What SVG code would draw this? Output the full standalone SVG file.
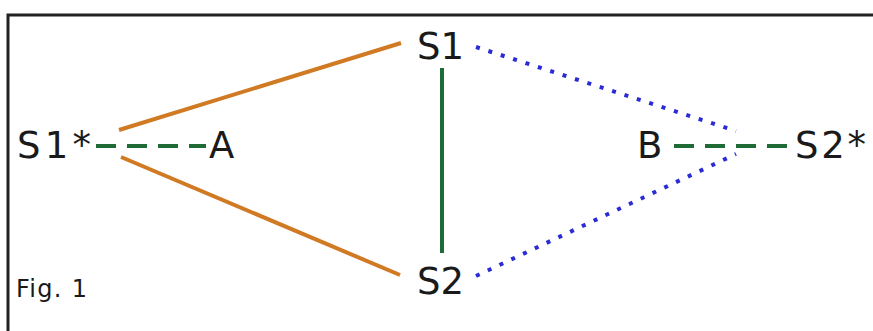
<svg xmlns="http://www.w3.org/2000/svg" width="873" height="331" viewBox="0 0 873 331">
<style>
.lbl{font-family:"DejaVu Sans",Verdana,sans-serif;font-size:37px;fill:#1a1a1a}
.orange{stroke:#d07a24;stroke-width:4;fill:none}
.green{stroke:#1e6b35;stroke-width:4;fill:none}
.gdash{stroke:#1e6b35;stroke-width:4;fill:none;stroke-dasharray:20 11}
.blue{stroke:#2b2bd6;stroke-width:4;fill:none;stroke-dasharray:4 9}
</style>
<rect width="873" height="331" fill="#ffffff"/>
<path d="M8 331 V15 H873" stroke="#222" stroke-width="3" fill="none"/>
<g id="connectors">
<line class="orange" x1="119" y1="130" x2="401" y2="43"/>
<line class="orange" x1="121" y1="157" x2="400" y2="275"/>
<line class="green" x1="442" y1="68" x2="442" y2="253"/>
<line class="gdash" x1="96" y1="146" x2="206" y2="146"/>
<line class="gdash" x1="674" y1="146" x2="794" y2="146"/>
<line class="blue" x1="476" y1="47" x2="736" y2="131"/>
<line class="blue" x1="476" y1="276" x2="736" y2="154"/>
</g>
<g id="S1"><text class="lbl" x="417" y="59">S1</text></g>
<g id="S2"><text class="lbl" x="417" y="294">S2</text></g>
<g id="S1star"><text class="lbl" x="17" y="158" textLength="74" lengthAdjust="spacing">S1*</text></g>
<g id="A"><text class="lbl" x="209" y="158">A</text></g>
<g id="B"><text class="lbl" x="637" y="158">B</text></g>
<g id="S2star"><text class="lbl" x="795" y="158" textLength="71" lengthAdjust="spacing">S2*</text></g>
<g id="fig"><text x="16" y="297" textLength="71" lengthAdjust="spacing" style="font-family:'DejaVu Sans',Verdana,sans-serif;font-size:24px;fill:#1a1a1a">Fig. 1</text></g>
</svg>
